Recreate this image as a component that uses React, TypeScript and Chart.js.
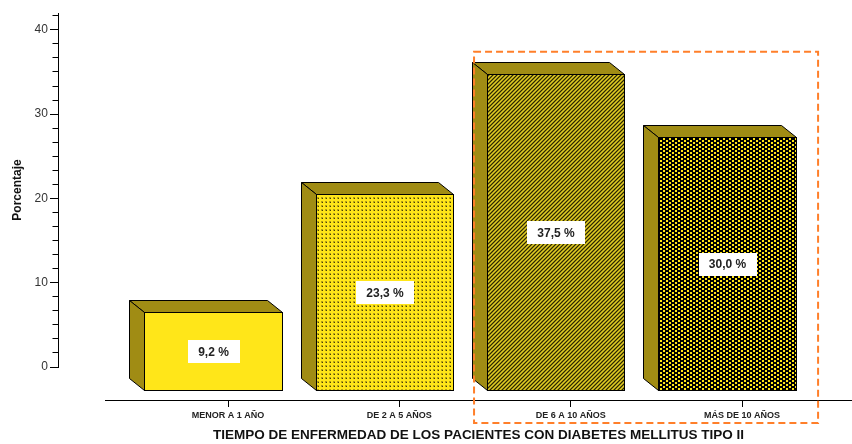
import React, { useEffect, useRef } from "react";
import { Chart, registerables } from "chart.js";

Chart.register(...registerables);

// ---------- data ----------
const CATEGORIES = ["MENOR A 1 AÑO", "DE 2 A 5 AÑOS", "DE 6 A 10 AÑOS", "MÁS DE 10 AÑOS"];
const PERCENTAGES = [9.2, 23.3, 37.5, 30.0];
const VALUE_LABELS = ["9,2 %", "23,3 %", "37,5 %", "30,0 %"];
const Y_MAJOR_TICKS = [0, 10, 20, 30, 40];
const Y_MINOR_TICKS = [
  1.667, 3.333, 5, 6.667, 8.333, 11.667, 13.333, 15, 16.667, 18.333,
  21.667, 23.333, 25, 26.667, 28.333, 31.667, 33.333, 35, 36.667, 38.333, 41.667,
];
const X_TITLE = "TIEMPO DE ENFERMEDAD DE LOS PACIENTES CON DIABETES MELLITUS TIPO II";
const Y_TITLE = "Porcentaje";
// highlighted region (in axis values)
const HIGHLIGHT = { xMin: 1.436, xMax: 3.444, yMin: -6.65, yMax: 37.4 };

// ---------- style ----------
const FONT = "'Liberation Sans', Arial, Helvetica, sans-serif";
const YELLOW = "#FFE619";
const OLIVE = "#A08C14";
const DEPTH_X = 15;
const DEPTH_Y = 12;
const DROP = 23;
const SHIFT = -15;
const MINOR_TICK_LEN = 6;

function tile(w: number, h: number, draw: (g: CanvasRenderingContext2D) => void) {
  const c = document.createElement("canvas");
  c.width = w;
  c.height = h;
  const g = c.getContext("2d")!;
  draw(g);
  return c;
}

function makePatterns(ctx: CanvasRenderingContext2D): (string | CanvasPattern)[] {
  const dotted = tile(4, 4, (g) => {
    g.fillStyle = YELLOW;
    g.fillRect(0, 0, 4, 4);
    g.fillStyle = "#B4A018";
    g.fillRect(1, 1, 2, 2);
    g.fillStyle = "#4a4200";
    g.fillRect(2, 2, 1, 1);
  });
  const diag = tile(4, 4, (g) => {
    g.fillStyle = "#9A8A16";
    g.fillRect(0, 0, 4, 4);
    g.fillStyle = "#2c2800";
    for (let i = 0; i < 4; i++) g.fillRect(3 - i, i, 1, 1);
    g.fillStyle = "#E2CE22";
    for (let i = 0; i < 4; i++) g.fillRect((5 - i) % 4, i, 1, 1);
  });
  const dark = tile(6, 4, (g) => {
    g.fillStyle = "#000000";
    g.fillRect(0, 0, 6, 4);
    g.fillStyle = YELLOW;
    g.fillRect(0, 0, 2, 2);
    g.fillRect(3, 2, 2, 2);
  });
  return [
    YELLOW,
    ctx.createPattern(dotted, "repeat")!,
    ctx.createPattern(diag, "repeat")!,
    ctx.createPattern(dark, "repeat")!,
  ];
}

const align = (v: number) => Math.round(v - 0.5) + 0.5;

const bars3d = {
  id: "bars3d",
  afterDatasetsDraw(chart: any) {
    const ctx: CanvasRenderingContext2D = chart.ctx;
    const meta = chart.getDatasetMeta(0);
    const fills = makePatterns(ctx);
    ctx.save();
    ctx.lineWidth = 1;
    ctx.strokeStyle = "#000";
    ctx.lineJoin = "miter";
    meta.data.forEach((el: any, i: number) => {
      const p = el.getProps(["x", "y", "base", "width"], true);
      const L = Math.round(p.x + SHIFT - p.width / 2) + 0.5;
      const R = Math.round(p.x + SHIFT + p.width / 2) + 0.5;
      const T = Math.round(p.y + DROP) + 0.5;
      const B = Math.round(p.base + DROP) + 0.5;
      // top face
      ctx.beginPath();
      ctx.moveTo(L, T);
      ctx.lineTo(L - DEPTH_X, T - DEPTH_Y);
      ctx.lineTo(R - DEPTH_X, T - DEPTH_Y);
      ctx.lineTo(R, T);
      ctx.closePath();
      ctx.fillStyle = OLIVE;
      ctx.fill();
      ctx.stroke();
      // left face
      ctx.beginPath();
      ctx.moveTo(L, T);
      ctx.lineTo(L - DEPTH_X, T - DEPTH_Y);
      ctx.lineTo(L - DEPTH_X, B - DEPTH_Y);
      ctx.lineTo(L, B);
      ctx.closePath();
      ctx.fillStyle = OLIVE;
      ctx.fill();
      ctx.stroke();
      // front face
      ctx.fillStyle = fills[i];
      ctx.fillRect(L, T, R - L, B - T);
      ctx.strokeRect(L, T, R - L, B - T);
      // value label
      ctx.font = `bold 12px ${FONT}`;
      const text = VALUE_LABELS[i];
      const tw = ctx.measureText(text).width;
      const cx = (L + R) / 2;
      const cy = (T + B) / 2;
      const bw = Math.round(tw + 21);
      const bh = 23;
      ctx.fillStyle = "#ffffff";
      ctx.fillRect(Math.round(cx - bw / 2), Math.round(cy - bh / 2), bw, bh);
      ctx.fillStyle = "#222";
      ctx.textAlign = "center";
      ctx.textBaseline = "middle";
      ctx.fillText(text, cx, cy + 1);
    });
    ctx.restore();
  },
  afterDraw(chart: any) {
    const ctx: CanvasRenderingContext2D = chart.ctx;
    const xs = chart.scales.x;
    const ys = chart.scales.y;
    // minor ticks of the value axis
    const ax = align(xs.getPixelForValue(Y_AXIS_AT));
    ctx.save();
    ctx.strokeStyle = "#000000";
    ctx.lineWidth = 1;
    ctx.setLineDash([]);
    ctx.beginPath();
    Y_MINOR_TICKS.forEach((v) => {
      const py = align(ys.getPixelForValue(v));
      ctx.moveTo(ax - MINOR_TICK_LEN, py);
      ctx.lineTo(ax, py);
    });
    ctx.stroke();
    ctx.restore();
    // highlight box
    const x1 = xs.getPixelForValue(HIGHLIGHT.xMin);
    const x2 = xs.getPixelForValue(HIGHLIGHT.xMax);
    const y1 = ys.getPixelForValue(HIGHLIGHT.yMax);
    const y2 = ys.getPixelForValue(HIGHLIGHT.yMin);
    ctx.save();
    ctx.strokeStyle = "#FF7F2A";
    ctx.lineWidth = 2;
    ctx.setLineDash([7, 4]);
    ctx.strokeRect(x1, y1, x2 - x1, y2 - y1);
    ctx.restore();
  },
};

const X_MIN = -0.718;
const X_MAX = 3.642;
const Y_AXIS_AT = -0.992;
const Y_LABELS_AT = -1.051;

export default function App() {
  const ref = useRef<HTMLCanvasElement | null>(null);
  useEffect(() => {
    document.body.style.margin = "0";
    const canvas = ref.current!;
    const setTicks = (list: number[]) => (s: any) => {
      s.ticks = list.map((v) => ({ value: v }));
    };
    const common = { type: "linear", min: 0, max: 42 };
    const chart = new Chart(canvas, {
      type: "bar",
      data: {
        datasets: [
          {
            data: PERCENTAGES.map((v, i) => ({ x: i, y: v })),
            backgroundColor: "rgba(0,0,0,0)",
            borderWidth: 0,
            barPercentage: 0.8,
            categoryPercentage: 1,
            xAxisID: "x",
            yAxisID: "y",
          },
        ],
      },
      options: {
        responsive: false,
        animation: false,
        events: [],
        layout: { padding: { left: 10, right: 0, top: 13, bottom: 77 } },
        plugins: { legend: { display: false }, tooltip: { enabled: false } },
        scales: {
          x: {
            type: "linear",
            position: { y: -4 } as any,
            offset: false,
            min: X_MIN,
            max: X_MAX,
            afterBuildTicks: setTicks(CATEGORIES.map((_, i) => i)),
            afterFit: (s: any) => {
              s.height = 43;
            },
            ticks: {
              callback: (v: any) => CATEGORIES[v as number],
              font: { family: FONT, size: 9, weight: "bold" },
              color: "#222",
              padding: 3,
              maxRotation: 0,
              autoSkip: false,
            },
            grid: { offset: false, drawOnChartArea: false, drawTicks: true, tickLength: 6, color: "#000", lineWidth: 1 },
            border: { display: true, color: "#000", width: 1 },
            title: {
              display: true,
              text: X_TITLE,
              font: { family: FONT, size: 13.5, weight: "bold" },
              color: "#111",
              padding: 0,
            },
          },
          y: {
            ...common,
            position: "left",
            afterBuildTicks: setTicks(Y_MAJOR_TICKS),
            afterFit: (s: any) => {
              s.width = 95;
            },
            ticks: { display: false },
            grid: { display: false, drawTicks: false },
            border: { display: false },
            title: {
              display: true,
              text: Y_TITLE,
              font: { family: FONT, size: 12, weight: "bold" },
              color: "#111",
              padding: 0,
            },
          },
          yLabels: {
            ...common,
            position: { x: Y_LABELS_AT } as any,
            afterBuildTicks: setTicks(Y_MAJOR_TICKS),
            ticks: { font: { family: FONT, size: 12 }, color: "#333", padding: 0 },
            grid: { display: false, drawTicks: false },
            border: { display: false },
          },
          yMajor: {
            ...common,
            position: { x: Y_AXIS_AT } as any,
            afterBuildTicks: setTicks(Y_MAJOR_TICKS),
            ticks: { display: false },
            grid: { drawOnChartArea: false, drawTicks: true, tickLength: 8, color: "#000", lineWidth: 1 },
            border: { display: true, color: "#000", width: 1 },
          },
        },
      } as any,
      plugins: [bars3d],
    });
    return () => chart.destroy();
  }, []);
  return (
    <div style={{ width: 852, height: 444 }}>
      <canvas ref={ref} width={852} height={444} style={{ display: "block" }} />
    </div>
  );
}
